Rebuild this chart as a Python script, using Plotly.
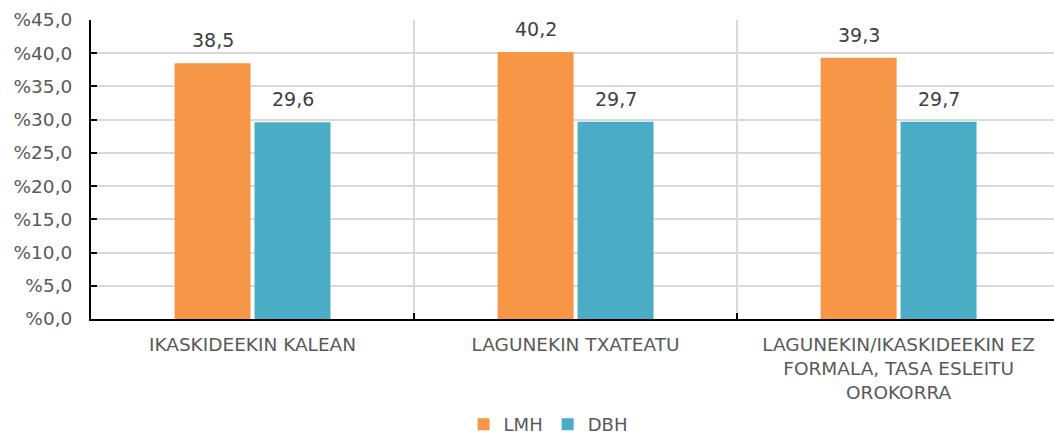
import plotly.graph_objects as go

categories = [
    "IKASKIDEEKIN KALEAN",
    "LAGUNEKIN TXATEATU",
    "LAGUNEKIN/IKASKIDEEKIN EZ<br>FORMALA, TASA ESLEITU<br>OROKORRA",
]
series_names = ["LMH", "DBH"]
lmh_values = [38.5, 40.2, 39.3]
dbh_values = [29.6, 29.7, 29.7]
y_ticks = [0, 5, 10, 15, 20, 25, 30, 35, 40, 45]
y_tick_labels = ["%" + f"{v:.1f}".replace(".", ",") for v in y_ticks]

FONT = "DejaVu Sans"
GREY = "#595959"
colors = ["#F79646", "#4BACC6"]

fig = go.Figure()
for name, vals, col in zip(series_names, [lmh_values, dbh_values], colors):
    fig.add_trace(go.Bar(
        name=name, x=categories, y=vals,
        marker=dict(color=col, line=dict(width=0)),
    ))

# value labels above each bar (left bar of group shifted left, right bar right)
for shift, vals in zip([-40, 40], [lmh_values, dbh_values]):
    for cat, v in zip(categories, vals):
        fig.add_annotation(
            x=cat, y=v, xref="x", yref="y",
            text=f"{v:.1f}".replace(".", ","),
            showarrow=False, xshift=shift, yshift=10, yanchor="bottom",
            font=dict(family=FONT, size=19, color="#404040"),
        )

fig.update_layout(
    width=1054, height=443,
    margin=dict(l=91, r=0, t=20, b=124, autoexpand=False),
    paper_bgcolor="white", plot_bgcolor="white",
    barmode="group", bargap=0.505, bargroupgap=0.05,
    font=dict(family=FONT, size=18, color=GREY),
    showlegend=True,
    legend=dict(orientation="h", xref="container", yref="container",
                x=0.52, xanchor="center", y=-0.02, yanchor="bottom",
                font=dict(family=FONT, size=18, color=GREY), traceorder="normal",
                itemwidth=30, tracegroupgap=0),
    xaxis=dict(
        type="category", range=[-0.5, 2.481],
        tickson="boundaries", ticks="inside", ticklen=6, tickwidth=2, tickcolor="black",
        showgrid=True, gridcolor="#D9D9D9", gridwidth=1.5,
        showline=True, linecolor="black", linewidth=2,
        ticklabelstandoff=8,
        tickfont=dict(family=FONT, size=18.5, color=GREY),
    ),
    yaxis=dict(
        range=[0, 45], tickvals=y_ticks, ticktext=y_tick_labels,
        ticks="inside", ticklen=6, tickwidth=2, tickcolor="black",
        showgrid=True, gridcolor="#D9D9D9", gridwidth=1.5,
        showline=True, linecolor="black", linewidth=2,
        zeroline=False, ticklabelstandoff=13,
        tickfont=dict(family=FONT, size=18.5, color=GREY),
    ),
)

fig.write_html("out.html")
